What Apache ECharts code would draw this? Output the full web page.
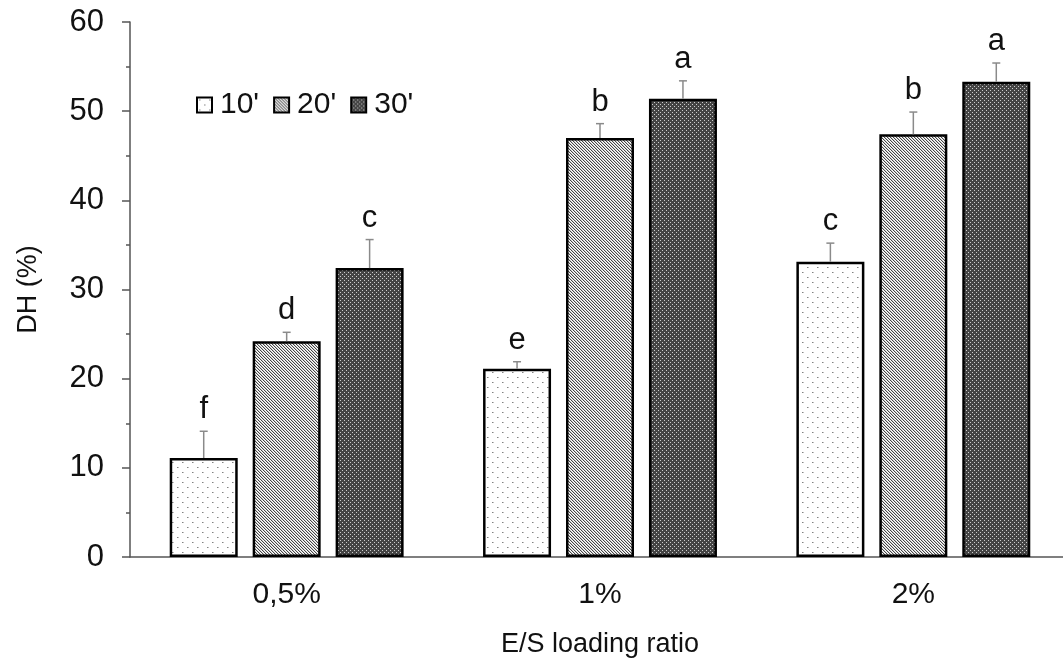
<!DOCTYPE html>
<html><head><meta charset="utf-8">
<script src="https://cdn.jsdelivr.net/npm/echarts@6/dist/echarts.min.js"></script>
<style>html,body{margin:0;padding:0;background:#fff}#c{width:1063px;height:659px}</style>
</head><body><div id="c"></div>
<script>
// ---- data ----
const categories = ['0,5%', '1%', '2%'];
const seriesNames = ["10'", "20'", "30'"];
const dh10 = [11.1, 21.1, 33.1];
const dh20 = [24.2, 47.0, 47.4];
const dh30 = [32.4, 51.4, 53.3];
const err10 = [3.0, 0.8, 2.1];
const err20 = [1.0, 1.6, 2.5];
const err30 = [3.2, 2.0, 2.1];
const letters10 = ['f', 'e', 'c'];
const letters20 = ['d', 'b', 'b'];
const letters30 = ['c', 'a', 'a'];
const yMin = 0, yMax = 60, yStep = 10;

// ---- patterns ----
function makeTile(w, h, fn) {
  const c = document.createElement('canvas');
  c.width = w; c.height = h;
  const ctx = c.getContext('2d');
  const img = ctx.createImageData(w, h);
  for (let y = 0; y < h; y++) for (let x = 0; x < w; x++) {
    const v = fn(x, y); const i = (y * w + x) * 4;
    img.data[i] = v; img.data[i + 1] = v; img.data[i + 2] = v; img.data[i + 3] = 255;
  }
  ctx.putImageData(img, 0, 0);
  return c;
}
const dotTile = makeTile(10, 10, (x, y) => {
  if ((x === 2 && y === 2) || (x === 7 && y === 7)) return 130;
  if ((x === 3 && y === 2) || (x === 8 && y === 7)) return 190;
  return 255;
});
const diagTile = makeTile(3, 3, (x, y) => {
  const m = ((x - y) % 3 + 3) % 3;
  return m === 0 ? 70 : (m === 1 ? 205 : 255);
});
const hatchTile = makeTile(4, 4, (x, y) => {
  if ((x === 0 && y === 0) || (x === 2 && y === 2)) return 205;
  return 68;
});
const patterns = [
  { image: dotTile, repeat: 'repeat' },
  { image: diagTile, repeat: 'repeat' },
  { image: hatchTile, repeat: 'repeat' }
];

const values = [dh10, dh20, dh30];
const errs = [err10, err20, err30];
const letters = [letters10, letters20, letters30];

const FONT = 'Liberation Sans, Arial, sans-serif';
const BAR_RATIO = 0.217, GAP = 0.22;

const series = [];
values.forEach((vals, k) => {
  series.push({
    name: seriesNames[k], type: 'bar', data: vals,
    barWidth: (BAR_RATIO * 100) + '%', barGap: (GAP * 100) + '%',
    itemStyle: { color: patterns[k], borderColor: '#000', borderWidth: 2.5 },
    z: 2
  });
});
values.forEach((vals, k) => {
  series.push({
    type: 'custom', z: 5, clip: false, silent: true,
    data: vals.map((v, i) => [i, v, errs[k][i]]),
    renderItem: function (params, api) {
      const band = api.size([1, 0])[0];
      const bw = band * BAR_RATIO, step = bw * (1 + GAP);
      const x0 = api.coord([api.value(0), 0])[0] + (k - 1) * step;
      const top = api.coord([api.value(0), api.value(1)])[1];
      const cap = api.coord([api.value(0), api.value(1) + api.value(2)])[1];
      return { type: 'group', children: [
        { type: 'line', shape: { x1: x0, y1: top, x2: x0, y2: cap }, style: { stroke: '#8a8a8a', lineWidth: 1.5 } },
        { type: 'line', shape: { x1: x0 - 4, y1: cap, x2: x0 + 4, y2: cap }, style: { stroke: '#8a8a8a', lineWidth: 1.5 } },
        { type: 'text', x: x0, y: cap - 6, style: { text: letters[k][params.dataIndex], fontSize: 31, fontFamily: FONT, fill: '#111', align: 'center', verticalAlign: 'bottom' } }
      ] };
    }
  });
});

const chart = echarts.init(document.getElementById('c'), null, { renderer: 'canvas' });
chart.setOption({
  animation: false,
  backgroundColor: '#fff',
  grid: { left: 130, top: 22, width: 940, bottom: 102, containLabel: false, outerBoundsMode: 'none' },
  legend: {
    data: seriesNames, left: 191, top: 85, orient: 'horizontal',
    icon: 'rect', itemWidth: 15, itemHeight: 15, itemGap: 14,
    textStyle: { fontSize: 30, fontFamily: FONT, color: '#111', padding: [0, 0, 0, 3] },
    selectedMode: false
  },
  xAxis: {
    type: 'category', data: categories,
    axisLine: { lineStyle: { color: '#555', width: 1.5 } },
    axisTick: { show: false },
    axisLabel: { fontSize: 30, fontFamily: FONT, color: '#111', margin: 23 },
    name: 'E/S loading ratio', nameLocation: 'middle', nameGap: 74,
    nameTextStyle: { fontSize: 27, fontFamily: FONT, color: '#111' }
  },
  yAxis: {
    type: 'value', min: yMin, max: yMax, interval: yStep,
    axisLine: { show: true, lineStyle: { color: '#555', width: 1.5 } },
    axisTick: { show: true, length: 8, lineStyle: { color: '#555', width: 1.5 } },
    minorTick: { show: true, splitNumber: 2, length: 4, lineStyle: { color: '#555', width: 1.5 } },
    splitLine: { show: false },
    axisLabel: { fontSize: 31, fontFamily: FONT, color: '#111', margin: 26 },
    name: 'DH (%)', nameLocation: 'middle', nameGap: 88, nameRotate: 90,
    nameTextStyle: { fontSize: 27, fontFamily: FONT, color: '#111' }
  },
  series: series
});
</script></body></html>
